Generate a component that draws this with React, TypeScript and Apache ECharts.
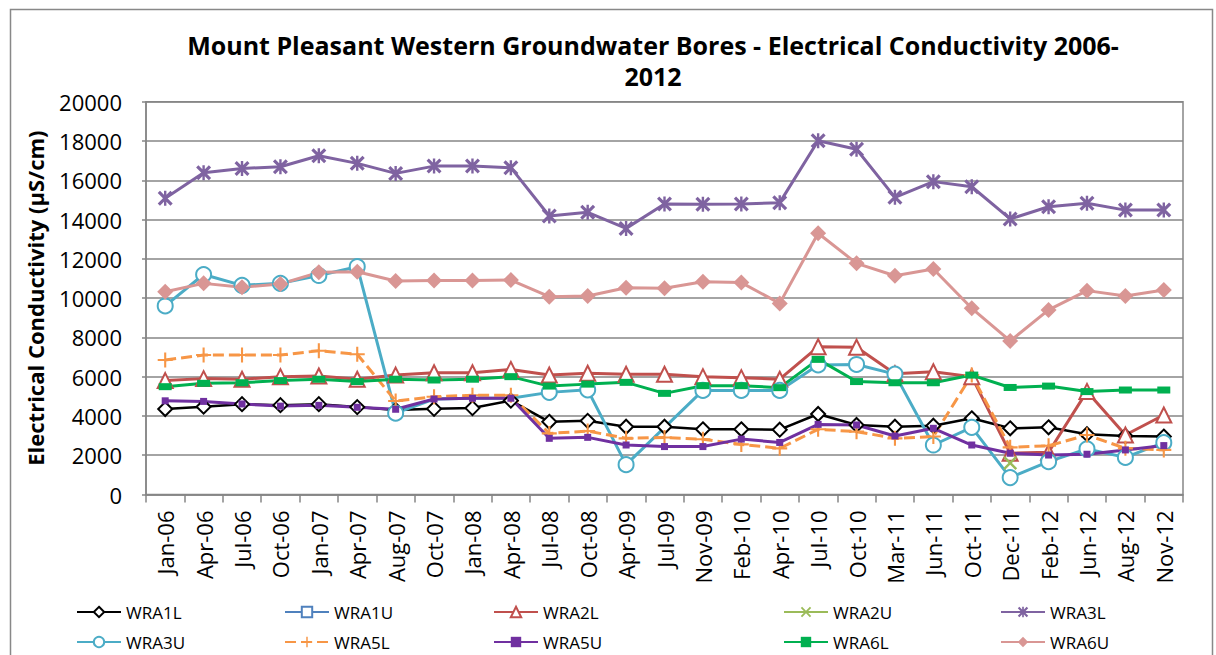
import React, { useEffect, useRef } from "react";
import * as echarts from "echarts";

const categories = ["Jan-06","Apr-06","Jul-06","Oct-06","Jan-07","Apr-07","Aug-07","Oct-07","Jan-08","Apr-08","Jul-08","Oct-08","Apr-09","Jul-09","Nov-09","Feb-10","Apr-10","Jul-10","Oct-10","Mar-11","Jun-11","Oct-11","Dec-11","Feb-12","Jun-12","Aug-12","Nov-12"];

const WRA1L = [4350, 4470, 4600, 4550, 4600, 4450, 4300, 4360, 4400, 4780, 3700, 3750, 3450, 3450, 3320, 3320, 3300, 4100, 3540, 3450, 3500, 3880, 3370, 3420, 3070, 2980, 2950];
const WRA1U: (number | null)[] = categories.map(() => null);
const WRA2L = [5800, 5900, 5870, 6000, 6030, 5870, 6080, 6200, 6200, 6370, 6080, 6170, 6120, 6120, 6000, 5950, 5870, 7520, 7500, 6150, 6250, 6000, 2100, 2150, 5250, 3030, 4050];
const WRA2U = [null, null, null, null, null, null, null, null, null, null, null, null, null, null, null, null, null, null, null, null, null, null, 1600, null, null, null, null];
const WRA3L = [15080, 16380, 16600, 16690, 17250, 16860, 16350, 16720, 16720, 16640, 14180, 14370, 13550, 14790, 14780, 14790, 14860, 18010, 17580, 15130, 15930, 15670, 14030, 14650, 14830, 14480, 14480];
const WRA3U = [9600, 11200, 10650, 10750, 11150, 11600, 4140, 4860, 4900, 4900, 5200, 5330, 1520, null, 5300, 5300, 5300, 6600, 6620, 6130, 2520, 3420, 860, 1670, 2320, 1890, 2640];
const WRA5L = [6850, 7100, 7100, 7100, 7320, 7140, 4760, 4980, 5050, 5050, 3110, 3230, 2860, 2900, 2810, 2550, 2350, 3320, 3200, 2860, 2950, 6080, 2400, 2480, 3030, 2350, 2270];
const WRA5U = [4770, 4740, 4610, 4500, 4540, 4440, 4340, 4860, 4900, 4900, 2860, 2910, 2520, 2440, 2440, 2820, 2650, 3570, 3540, 2980, 3370, 2520, 2100, 2010, 2050, 2270, 2490];
const WRA6L = [5490, 5660, 5690, 5800, 5870, 5750, 5870, 5830, 5870, 6000, 5520, 5620, 5710, 5150, 5540, 5540, 5440, 6880, 5750, 5690, 5690, 6080, 5450, 5520, 5240, 5320, 5320];
const WRA6U = [10320, 10750, 10550, 10720, 11310, 11340, 10870, 10890, 10890, 10920, 10070, 10110, 10530, 10500, 10830, 10790, 9730, 13300, 11770, 11140, 11480, 9480, 7820, 9400, 10380, 10110, 10410];

const yTicks = { min: 0, max: 20000, interval: 2000 };

const FONT = "Open Sans";
const X_PATH = "path://M0,2.5 L2.5,0 L10,7.5 L17.5,0 L20,2.5 L12.5,10 L20,17.5 L17.5,20 L10,12.5 L2.5,20 L0,17.5 L7.5,10 Z";
const STAR_PATH = "path://M0,3 L3,0 L10,7 L17,0 L20,3 L13,10 L20,17 L17,20 L10,13 L3,20 L0,17 L7,10 Z M8.4,0 L11.6,0 L11.6,20 L8.4,20 Z";
const PLUS_PATH = "path://M8.6,0 L11.4,0 L11.4,8.6 L20,8.6 L20,11.4 L11.4,11.4 L11.4,20 L8.6,20 L8.6,11.4 L0,11.4 L0,8.6 L8.6,8.6 Z";

export default function App() {
  const ref = useRef<HTMLDivElement>(null);
  useEffect(() => {
    if (!ref.current) return;
    const chart = echarts.init(ref.current, null, { renderer: "svg" });

    const mk = (name: string, data: any[], color: string, symbol: string, symbolSize: any, opts: any = {}) => ({
      name,
      type: "line",
      data,
      symbol,
      symbolSize,
      connectNulls: !!opts.connectNulls,
      lineStyle: { color, width: opts.width ?? 3, type: opts.dash ?? "solid" },
      itemStyle: {
        color: opts.fill ?? color,
        borderColor: color,
        borderWidth: opts.borderWidth ?? 0,
      },
      z: 2,
    });

    const hideIdx = new Set([7, 8, 9]);
    const wra3uData = WRA3U.map((v, i) => (hideIdx.has(i) && v != null ? { value: v, symbol: "none" } : v));

    const series = [
      mk("WRA1L", WRA1L, "#000000", "emptyDiamond", 14, { borderWidth: 2.2, width: 2.5 }),
      mk("WRA1U", WRA1U, "#4F81BD", "emptyRect", 11, { borderWidth: 2.2 }),
      mk("WRA2L", WRA2L, "#C0504D", "emptyTriangle", 15, { borderWidth: 2.2 }),
      mk("WRA2U", WRA2U, "#9BBB59", X_PATH, 14),
      mk("WRA3L", WRA3L, "#7F63A1", STAR_PATH, 15),
      mk("WRA3U", wra3uData, "#4BACC6", "emptyCircle", 15, { borderWidth: 2.6, connectNulls: true }),
      mk("WRA5L", WRA5L, "#F79646", PLUS_PATH, 15, { dash: [11, 5] }),
      mk("WRA5U", WRA5U, "#7030A0", "rect", 7),
      mk("WRA6L", WRA6L, "#00B050", "rect", [13, 7]),
      mk("WRA6U", WRA6U, "#D99694", "diamond", 16),
    ];

    const legendPos = [
      [76, 602], [284, 602], [493, 602], [783, 602], [1000, 602],
      [76, 632], [284, 632], [493, 632], [783, 632], [1000, 632],
    ];
    const legends = series.map((s, i) => ({
      data: [s.name],
      left: legendPos[i][0],
      top: legendPos[i][1],
      itemWidth: 44,
      itemHeight: 13,
      itemGap: 0,
      padding: 0,
      textStyle: { fontFamily: FONT, fontSize: 17, color: "#000", lineHeight: 20 },
    }));

    chart.setOption({
      animation: false,
      backgroundColor: "#fff",
      title: {
        text: "Mount Pleasant Western Groundwater Bores - Electrical Conductivity 2006-\n2012",
        left: 648,
        top: 24,
        textAlign: "center",
        textStyle: { fontFamily: FONT, fontSize: 25, fontWeight: "bold", color: "#000", lineHeight: 31 },
      },
      legend: legends,
      grid: { left: 146, right: 33, top: 101.7, bottom: 160.5, show: true, borderColor: "#868686", borderWidth: 1.5 },
      xAxis: {
        type: "category",
        data: categories,
        boundaryGap: true,
        axisLine: { lineStyle: { color: "#868686", width: 1.5 } },
        axisTick: { show: true, interval: 0, length: 8, lineStyle: { color: "#868686", width: 1.5 } },
        axisLabel: { interval: 0, rotate: 90, margin: 16, fontFamily: FONT, fontSize: 22, color: "#000" },
      },
      yAxis: {
        type: "value",
        ...yTicks,
        name: "Electrical Conductivity (µS/cm)",
        nameLocation: "middle",
        nameGap: 100,
        nameTextStyle: { fontFamily: FONT, fontSize: 22, fontWeight: "bold", color: "#000" },
        axisLine: { show: true, lineStyle: { color: "#868686", width: 1.5 } },
        axisTick: { show: true, length: 4, lineStyle: { color: "#868686", width: 1.5 } },
        splitLine: { lineStyle: { color: "#868686", width: 1.5 } },
        axisLabel: { margin: 24, fontFamily: FONT, fontSize: 22, color: "#000", formatter: (v: number) => String(v) },
      },
      graphic: [
        { type: "rect", shape: { x: 10.5, y: 9.5, width: 1202, height: 680 }, style: { fill: "none", stroke: "#888", lineWidth: 1.5 }, silent: true },
      ],
      series,
    });
    return () => chart.dispose();
  }, []);
  return <div ref={ref} style={{ position: "fixed", left: 0, top: 0, width: 1216, height: 655 }} />;
}
